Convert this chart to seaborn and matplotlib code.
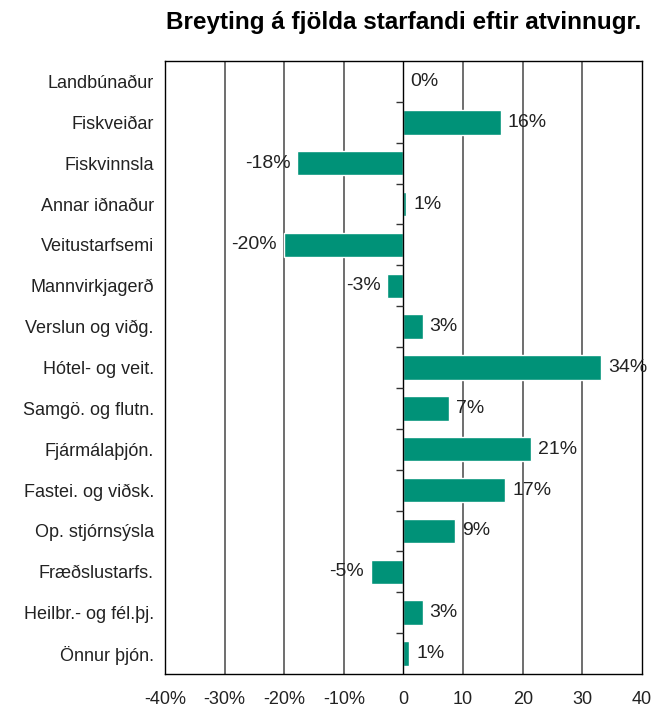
import numpy as np
import pandas as pd
import matplotlib
matplotlib.use('Agg')
import matplotlib.pyplot as plt
import seaborn as sns

# Data
categories = ['Landbúnaður', 'Fiskveiðar', 'Fiskvinnsla', 'Annar iðnaður', 'Veitustarfsemi',
              'Mannvirkjagerð', 'Verslun og viðg.', 'Hótel- og veit.', 'Samgö. og flutn.',
              'Fjármálaþjón.', 'Fastei. og viðsk.', 'Op. stjórnsýsla', 'Fræðslustarfs.',
              'Heilbr.- og fél.þj.', 'Önnur þjón.']
values = [0.0, 16.3, -17.8, 0.5, -20.1, -2.7, 3.2, 33.2, 7.6, 21.4, 17.1, 8.6, -5.5, 3.2, 1.0]
labels = ['0%', '16%', '-18%', '1%', '-20%', '-3%', '3%', '34%', '7%', '21%', '17%', '9%', '-5%', '3%', '1%']
xticks = [-40, -30, -20, -10, 0, 10, 20, 30, 40]
xticklabels = ['-40%', '-30%', '-20%', '-10%', '0', '10', '20', '30', '40']

df = pd.DataFrame({'cat': categories, 'val': values})

sns.set_style('white')
plt.rcParams['font.family'] = ['Liberation Sans', 'DejaVu Sans']

fig = plt.figure(figsize=(6.69, 7.12), dpi=100)
ax = fig.add_axes([0.2466, 0.0534, 0.713, 0.8609])

sns.barplot(data=df, x='val', y='cat', orient='h', color='#009278', width=0.6,
            saturation=1, ax=ax, zorder=3)

ax.set_xlim(-40, 40)
ax.set_ylim(len(categories) - 0.5, -0.5)
ax.set_xticks(xticks)
ax.set_xticklabels(xticklabels, fontsize=13, color='#222222')
ax.tick_params(axis='x', direction='out', length=5, width=1, color='black', pad=7)
ax.tick_params(axis='y', length=0, labelsize=13, labelcolor='#222222', pad=8)
ax.set_xlabel('')
ax.set_ylabel('')

# vertical gridlines and zero axis
for xv in xticks[1:-1]:
    if xv != 0:
        ax.axvline(xv, color='#555555', lw=1.2, zorder=1)
ax.axvline(0, color='black', lw=1, zorder=4)
# category tick marks on the zero axis
ax.hlines(np.arange(0.5, len(categories) - 0.5), -1.2, 0, color='#333333', lw=1, zorder=4)

for s in ax.spines.values():
    s.set_visible(True)
    s.set_color('black')
    s.set_linewidth(1)

ax.bar_label(ax.containers[0], labels=labels, padding=5, fontsize=14, color='#222222')

fig.text(0.603, 0.968, 'Breyting á fjölda starfandi eftir atvinnugr.', ha='center', va='center',
         fontsize=17.5, fontweight='bold', color='black')

fig.savefig('out.png', dpi=100)
